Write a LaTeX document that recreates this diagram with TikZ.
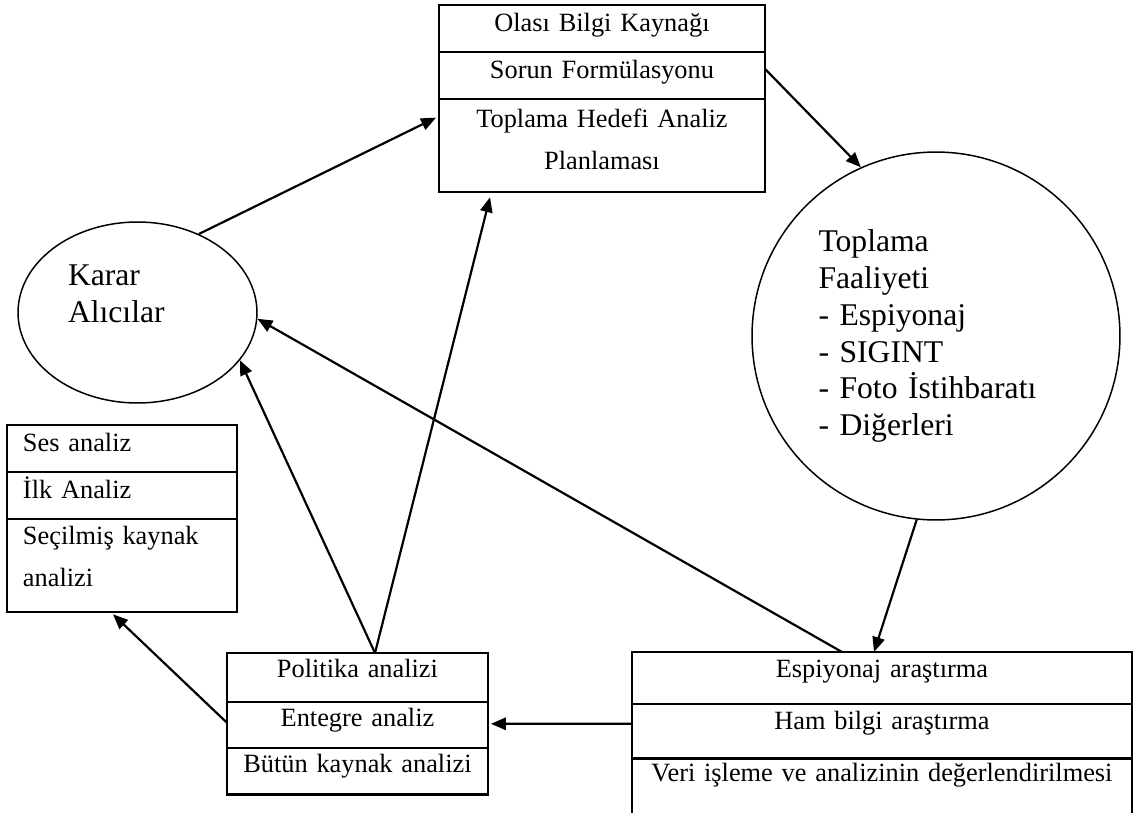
\documentclass[tikz,border=0pt]{standalone}
\usepackage{fontspec}
\setmainfont{Liberation Serif}
\usetikzlibrary{arrows.meta, positioning, shapes.geometric, calc}

\begin{document}
\begin{tikzpicture}[
  x=0.02cm, y=-0.02cm,
  % Cells - plain rows, stacked into boxes
  cell/.style={rectangle, draw=black, line width=1.25pt, outer sep=0pt, inner xsep=0pt, inner ysep=0pt, align=center, font=\fontsize{15pt}{23.8pt}\selectfont},
  rowh/.style 2 args={text height=#1, text depth=#2},
  topbox/.style={cell, text width=6.52cm},
  sesbox/.style={cell, align=left, inner xsep=0.32cm, text width=3.96cm},
  polbox/.style={cell, text width=5.22cm},
  espbox/.style={cell, text width=10cm},
  % Round nodes - actors and activity
  round/.style={draw=black, line width=0.85pt, inner sep=0pt, align=left, font=\fontsize{18pt}{21pt}\selectfont},
  % Flows
  flow/.style={-{Triangle[length=8.5pt, width=7pt]}, line width=1.25pt, draw=black}
]
\useasboundingbox (0,0) rectangle (1133,812);

% === NODES ===

% Planning box
\node[topbox, rowh={15.31pt}{11.34pt}, anchor=north west] (olasi) at (439,5) {Olası Bilgi Kaynağı};
\node[topbox, rowh={15.31pt}{11.34pt}, below=0pt of olasi] (sorun) {Sorun Formülasyonu};
\node[topbox, rowh={16.44pt}{36.85pt}, below=0pt of sorun] (plan) {Toplama Hedefi Analiz\\Planlaması};

% Decision makers
\node[round, ellipse, minimum width=4.78cm, minimum height=3.62cm, text width=2.78cm, rowh={13.04pt}{44.2pt}] (karar) at (137.5,312.5) {Karar\\Alıcılar};

% Collection
\node[round, circle, minimum size=7.36cm, text width=4.7cm] (toplama) at (936,336) {Toplama\\Faaliyeti\\- Espiyonaj\\- SIGINT\\- Foto İstihbaratı\\- Diğerleri};

% Analysis types
\node[sesbox, rowh={15.31pt}{11.34pt}, anchor=north west] (ses) at (7,425) {Ses analiz};
\node[sesbox, rowh={15.31pt}{11.34pt}, below=0pt of ses] (ilk) {İlk Analiz};
\node[sesbox, rowh={14.74pt}{38.55pt}, below=0pt of ilk] (secilmis) {Seçilmiş kaynak\\analizi};

% Integrated analysis
\node[polbox, rowh={14.17pt}{13.6pt}, anchor=north west] (politika) at (227,653) {Politika analizi};
\node[polbox, rowh={14.17pt}{11.9pt}, below=0pt of politika] (entegre) {Entegre analiz};
\node[polbox, rowh={14.17pt}{12.47pt}, below=0pt of entegre] (butun) {Bütün kaynak analizi};

% Processing
\node[espbox, rowh={14.74pt}{14.74pt}, anchor=north west] (espiyonaj) at (632,652) {Espiyonaj araştırma};
\node[espbox, rowh={14.74pt}{16.44pt}, below=0pt of espiyonaj] (ham) {Ham bilgi araştırma};
\node[espbox, rowh={13.04pt}{34pt}, below=0pt of ham] (veri) {Veri işleme ve analizinin değerlendirilmesi};

% === EDGES ===

\draw[flow] (karar.52) -- ($(plan.north west)+(-3,19)$);
\draw[flow] ($(sorun.north east)+(0,17)$) -- (toplama.114);
\draw[flow] (toplama.264) -- ($(espiyonaj.north west)+(242,0)$);
\draw[flow] ($(espiyonaj.north west)+(210,0)$) -- (karar.-3);
\draw[flow] ($(ham.north west)+(0,20)$) -- ($(entegre.north east)+(3,22)$);
\draw[flow] ($(politika.north west)+(148,0)$) -- ($(plan.south west)+(51,5)$);
\draw[flow] ($(politika.north west)+(148,0)$) -- (karar.-25);
\draw[flow] ($(entegre.north west)+(0,21)$) -- ($(secilmis.south west)+(106,2)$);

\end{tikzpicture}
\end{document}
